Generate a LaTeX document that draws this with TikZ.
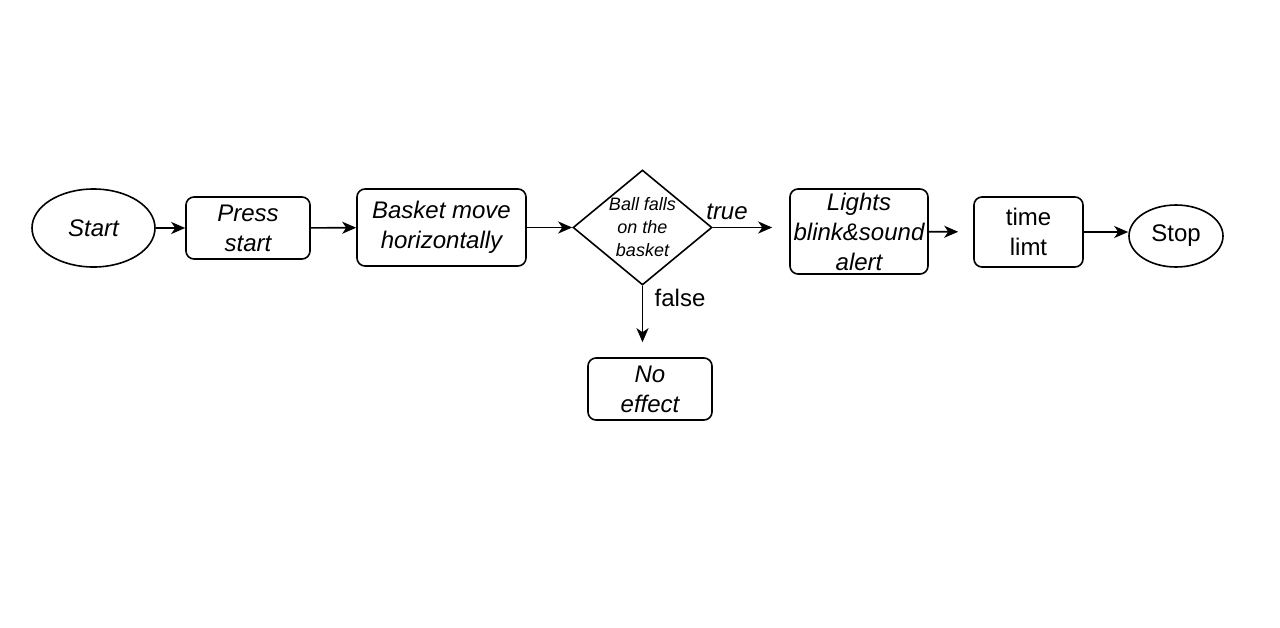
\documentclass[tikz,border=0pt]{standalone}
\usepackage{fontspec}
\setmainfont{Liberation Sans}
\usetikzlibrary{shapes.geometric,arrows.meta}
\begin{document}
\begin{tikzpicture}[x=1pt,y=-1pt,
  box/.style={draw, rounded corners=8pt, line width=1.6pt, inner sep=0pt, align=center, font=\fontsize{24}{30}\selectfont\itshape},
  oval/.style={draw, ellipse, line width=1.6pt, inner sep=0pt, font=\fontsize{24}{30}\selectfont},
  arr/.style={line width=1.6pt, -{Stealth[length=14pt,width=12pt,inset=4pt]}},
  lbl/.style={font=\fontsize{24}{30}\selectfont, inner sep=0pt}]
\useasboundingbox (0,0) rectangle (1280,627);
\fill[white] (0,0) rectangle (1280,627);

\node[oval, minimum width=123pt, minimum height=78pt, font=\fontsize{24}{30}\selectfont\itshape] (start) at (93.5,228) {Start};
\node[box, minimum width=124pt, minimum height=62pt] (press) at (248,228) {Press\\start};
\node[box, minimum width=169pt, minimum height=77pt] (basket) at (441.5,227.5) {Basket move\\horizontally};
\node[diamond, draw, line width=1.6pt, minimum width=139pt, minimum height=115pt, inner sep=0pt] (dec) at (642.5,227.5) {};
\node[align=center, inner sep=0pt, font=\fontsize{18}{23}\selectfont\itshape] (dectext) at (642.5,227) {Ball falls\\on the\\basket};
\node[box, minimum width=138pt, minimum height=85pt] (lights) at (859,231.5) {Lights\\blink\&sound\\alert};
\node[box, minimum width=109pt, minimum height=70pt, font=\fontsize{24}{30}\selectfont] (time) at (1028.5,232) {time\\limt};
\node[oval, minimum width=94pt, minimum height=62pt] (stop) at (1176,236) {Stop};
\node[box, minimum width=124pt, minimum height=62pt] (noeff) at (650,389) {No\\effect};

\draw[arr] (start) -- (press);
\draw[arr] (press) -- (basket);
\draw[arr] (basket) -- (dec);
\draw[arr, shorten >=17pt] (dec.east) -- (dec.east -| lights.west);
\node[lbl, font=\fontsize{24}{30}\selectfont\itshape] (truel) at (727,212) {true};
\draw[arr, shorten >=15pt] (lights) -- (time);
\draw[arr] (time.east) -- (time.east -| stop.west);
\draw[arr, shorten >=15pt] (dec.south) -- (dec.south |- noeff.north);
\node[lbl] (falsel) at (680,298) {false};
\end{tikzpicture}
\end{document}
